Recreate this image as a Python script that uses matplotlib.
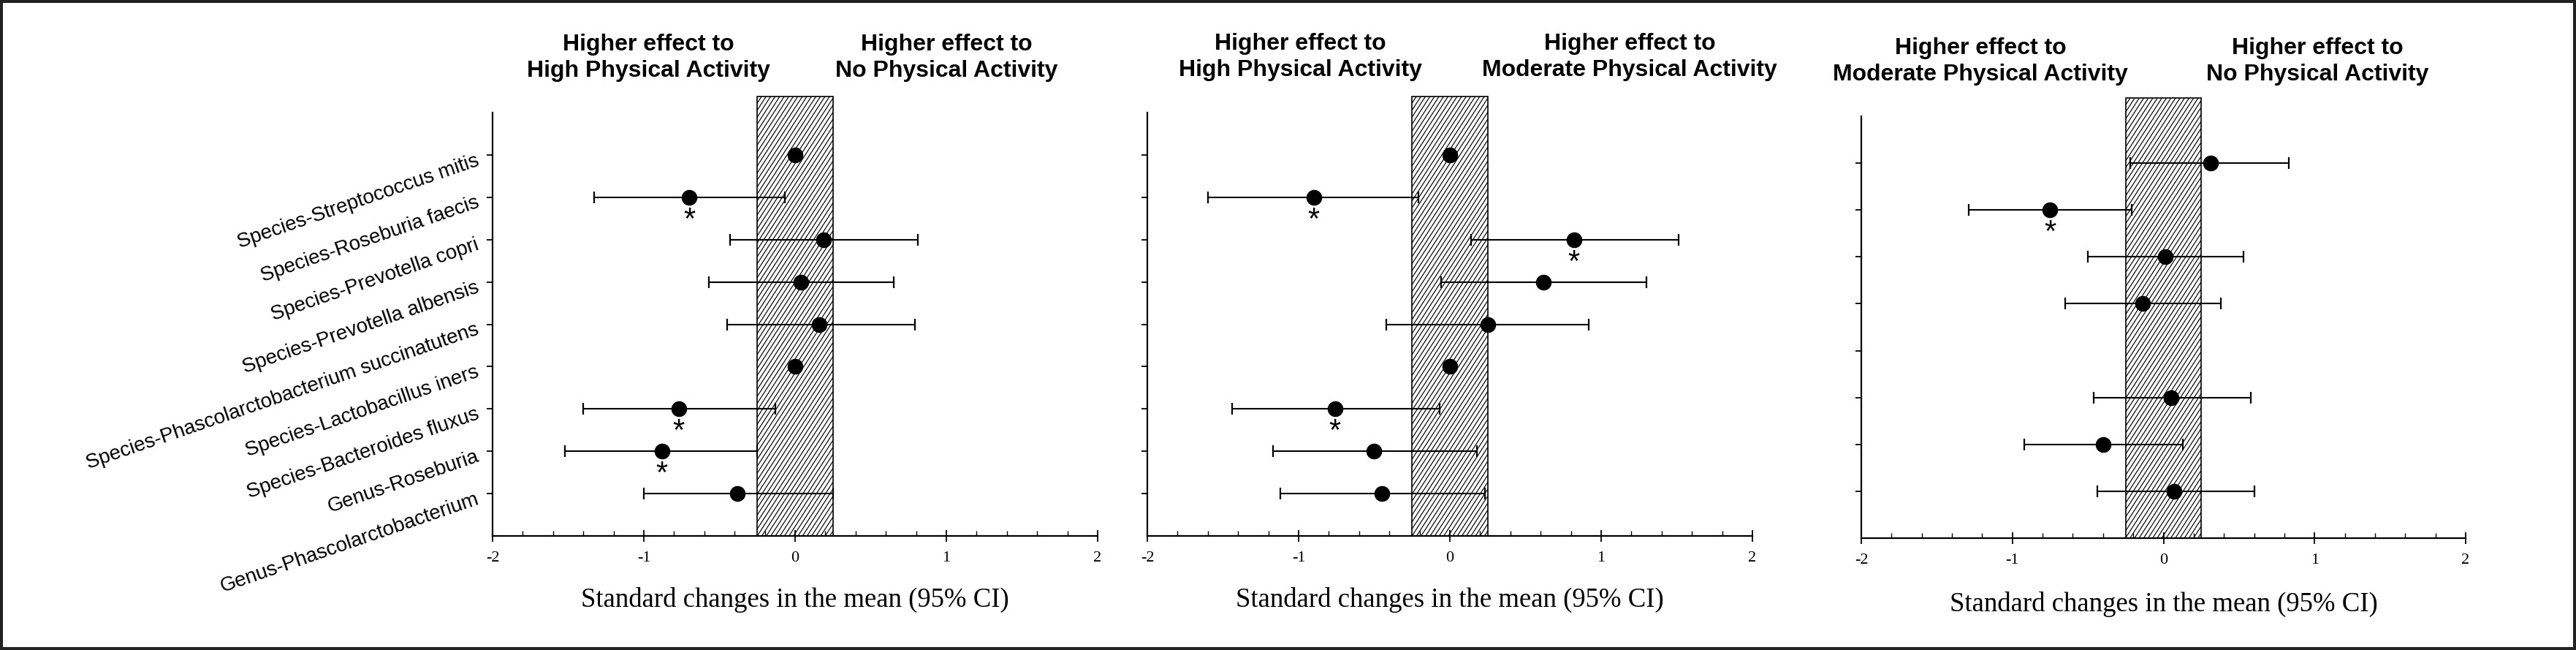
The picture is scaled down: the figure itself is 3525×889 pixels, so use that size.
import numpy as np
import matplotlib
matplotlib.use("Agg")
import matplotlib.pyplot as plt
from matplotlib.patches import Rectangle
from matplotlib.collections import LineCollection
from matplotlib import transforms
from matplotlib.ticker import MultipleLocator, FixedLocator, FixedFormatter

plt.rcParams['axes.unicode_minus'] = False

nan = np.nan

# ---------------- data ----------------
taxa = [
    "Species-Streptococcus mitis",
    "Species-Roseburia faecis",
    "Species-Prevotella copri",
    "Species-Prevotella albensis",
    "Species-Phascolarctobacterium succinatutens",
    "Species-Lactobacillus iners",
    "Species-Bacteroides fluxus",
    "Genus-Roseburia",
    "Genus-Phascolarctobacterium",
]

xtick_values = [-2, -1, 0, 1, 2]
xtick_labels = ["-2", "-1", "0", "1", "2"]
xlabel_text = "Standard changes in the mean (95% CI)"

# Panel 1: High vs No physical activity
p1_est = [0.00, -0.70, 0.19, 0.04, 0.16, 0.00, -0.77, -0.88, -0.38]
p1_lo = [nan, -1.33, -0.43, -0.57, -0.45, nan, -1.40, -1.52, -1.00]
p1_hi = [nan, -0.07, 0.81, 0.65, 0.79, nan, -0.13, -0.25, 0.25]
p1_sig = [0, 1, 0, 0, 0, 0, 1, 1, 0]
p1_headers = ["Higher effect to\nHigh Physical Activity",
              "Higher effect to\nNo Physical Activity"]

# Panel 2: High vs Moderate physical activity
p2_est = [0.00, -0.90, 0.82, 0.62, 0.25, 0.00, -0.76, -0.50, -0.45]
p2_lo = [nan, -1.60, 0.14, -0.06, -0.42, nan, -1.44, -1.17, -1.12]
p2_hi = [nan, -0.21, 1.51, 1.30, 0.92, nan, -0.07, 0.18, 0.23]
p2_sig = [0, 1, 1, 0, 0, 0, 1, 0, 0]
p2_headers = ["Higher effect to\nHigh Physical Activity",
              "Higher effect to\nModerate Physical Activity"]

# Panel 3: Moderate vs No physical activity (8 rows, row 5 empty)
p3_est = [0.31, -0.75, 0.01, -0.14, nan, 0.05, -0.40, 0.07]
p3_lo = [-0.22, -1.29, -0.50, -0.65, nan, -0.46, -0.92, -0.44]
p3_hi = [0.83, -0.21, 0.53, 0.38, nan, 0.58, 0.13, 0.60]
p3_sig = [0, 1, 0, 0, 0, 0, 0, 0]
p3_headers = ["Higher effect to\nModerate Physical Activity",
              "Higher effect to\nNo Physical Activity"]

band_lo, band_hi = -0.25, 0.25

SANS = ["Liberation Sans", "Arial", "DejaVu Sans"]
SERIF = ["Liberation Serif", "Times New Roman", "DejaVu Serif"]

# ---------------- figure ----------------
W, H = 3525, 889
fig = plt.figure(figsize=(W / 100, H / 100), dpi=100)


def px_axes(x0, x1, ytop, ybot):
    return [x0 / W, 1 - ybot / H, (x1 - x0) / W, (ybot - ytop) / H]


def hatch_band(ax, ytop, w_px, h_px, angle=57, spacing_px=6.2):
    """Steep diagonal hatching, clipped to the band rectangle."""
    band = Rectangle((band_lo, 0), band_hi - band_lo, ytop, facecolor="white",
                     edgecolor="none", lw=0, zorder=1)
    ax.add_patch(band)
    ppx = w_px / 4.0            # pixels per x unit
    ppy = h_px / ytop           # pixels per y unit
    dydx = np.tan(np.radians(angle)) * ppx / ppy
    x_start = band_lo - ytop / dydx
    step = spacing_px / ppx
    segs = []
    xb = x_start
    while xb < band_hi + step:
        segs.append([(xb, 0), (xb + ytop / dydx, ytop)])
        xb += step
    lc = LineCollection(segs, colors="black", linewidths=0.85, zorder=1.5)
    ax.add_collection(lc)
    lc.set_clip_path(band)
    edge = Rectangle((band_lo, 0), band_hi - band_lo, ytop, fill=False,
                     edgecolor="black", lw=1.2, zorder=1.6, clip_on=False)
    ax.add_patch(edge)


def draw_panel(ax, est, lo, hi, sig, headers, hdr_x, hdr_y, labels, xlab_y, w_px, h_px):
    n = len(est)
    ytop = n + 1 + 0.39
    ypos = np.arange(n, 0, -1)
    ax.set_xlim(-2, 2)
    ax.set_ylim(0, ytop)

    hatch_band(ax, ytop, w_px, h_px)

    est = np.asarray(est, float)
    lo = np.asarray(lo, float)
    hi = np.asarray(hi, float)
    m = ~np.isnan(lo)
    ax.errorbar(est[m], ypos[m], xerr=[est[m] - lo[m], hi[m] - est[m]], fmt="none",
                ecolor="black", elinewidth=1.5, capsize=5.5, capthick=1.6, zorder=3)
    pm = ~np.isnan(est)
    ax.plot(est[pm], ypos[pm], "o", color="black", ms=14.5, zorder=4)
    for e, yv, s in zip(est, ypos, sig):
        if s:
            ax.annotate("*", (e, yv), xytext=(0, -23), textcoords="offset points",
                        ha="center", va="center", fontsize=30, family=SANS,
                        zorder=5)

    for side in ("top", "right"):
        ax.spines[side].set_visible(False)
    ax.spines["left"].set_bounds(0, n + 1)
    for side in ("left", "bottom"):
        ax.spines[side].set_linewidth(1.6)

    ax.xaxis.set_major_locator(FixedLocator(xtick_values))
    ax.xaxis.set_major_formatter(FixedFormatter(xtick_labels))
    ax.xaxis.set_minor_locator(MultipleLocator(0.2))
    ax.tick_params(axis="x", which="major", direction="inout", length=12, width=1.3,
                   pad=9, labelsize=16)
    ax.tick_params(axis="x", which="minor", direction="in", length=5, width=1.0)
    for t in ax.get_xticklabels():
        t.set_family(SERIF)

    ax.set_yticks(ypos)
    ax.set_yticklabels([])
    ax.tick_params(axis="y", which="major", direction="out", length=6, width=1.3)
    if labels is not None:
        for lab, yv in zip(labels, ypos):
            ax.annotate(lab, xy=(0, yv), xycoords=("axes fraction", "data"),
                        xytext=(-14, -5), textcoords="offset points",
                        ha="right", va="center", rotation=19, rotation_mode="anchor",
                        fontsize=20, family=SANS)

    ax.set_xlabel(xlabel_text, fontsize=26.5, family=SERIF)
    ax.xaxis.set_label_coords(0.5, xlab_y)
    ax.xaxis.label.set_va("center")

    tr = transforms.blended_transform_factory(ax.transData, fig.transFigure)
    for txt, hx in zip(headers, hdr_x):
        ax.text(hx, hdr_y, txt, transform=tr, ha="center", va="center",
                multialignment="center", fontsize=23, fontweight="bold",
                family=SANS, linespacing=1.3)


ax1 = fig.add_axes(px_axes(674, 1502, 131.5, 733))
ax2 = fig.add_axes(px_axes(1570, 2398, 131.5, 733))
ax3 = fig.add_axes(px_axes(2547, 3374, 134, 736))

draw_panel(ax1, p1_est, p1_lo, p1_hi, p1_sig, p1_headers, [-0.97, 1.0], 1 - 79 / H,
           taxa, -(820 - 733) / 601.5, 828, 601.5)
draw_panel(ax2, p2_est, p2_lo, p2_hi, p2_sig, p2_headers, [-0.99, 1.19], 1 - 78 / H,
           None, -(820 - 733) / 601.5, 828, 601.5)
draw_panel(ax3, p3_est, p3_lo, p3_hi, p3_sig, p3_headers, [-1.21, 1.02], 1 - 84 / H,
           None, -(826 - 736) / 602, 827, 602)

# outer frame
fig.add_artist(Rectangle((2 / W, 2 / H), 1 - 4 / W, 1 - 4 / H, transform=fig.transFigure,
                         fill=False, edgecolor="#222222", lw=2.9))

fig.savefig("out.png", dpi=100, facecolor="white")
